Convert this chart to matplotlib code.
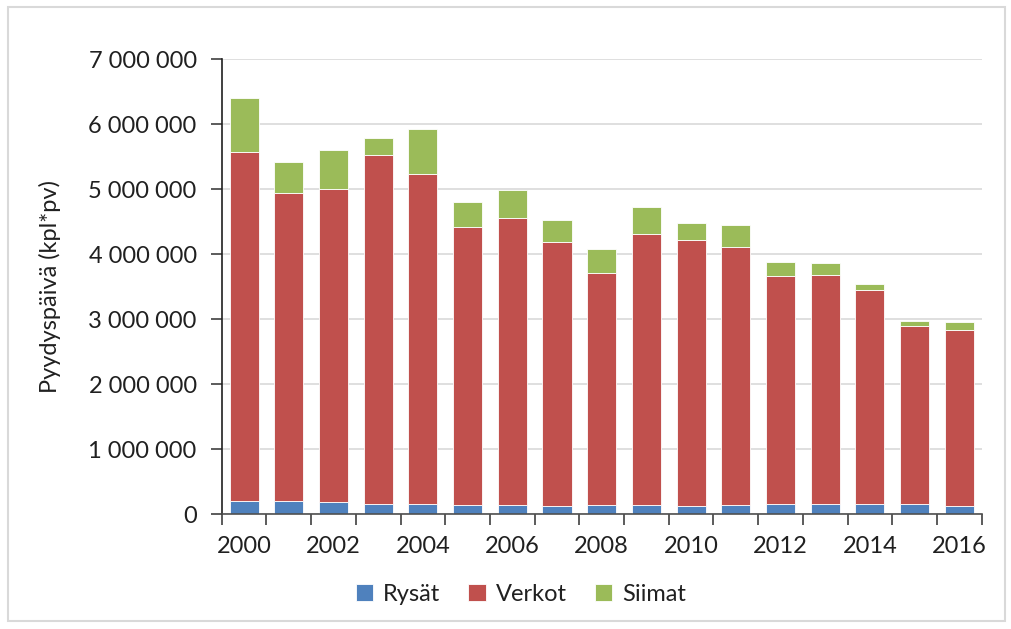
import numpy as np
import matplotlib
matplotlib.use("Agg")
import matplotlib.pyplot as plt
from matplotlib.patches import Rectangle
from matplotlib.ticker import FuncFormatter

plt.rcParams['font.family'] = ['Lato', 'DejaVu Sans']

years = list(range(2000, 2017))
rysat = [200000, 200000, 180000, 160000, 160000, 145000, 145000, 125000, 145000,
         145000, 125000, 145000, 160000, 160000, 160000, 160000, 125000]
verkot = [5374000, 4740000, 4820000, 5358000, 5075000, 4265000, 4405000, 4065000, 3558000,
          4165000, 4090000, 3965000, 3500000, 3517000, 3286000, 2732000, 2705000]
siimat = [826000, 475000, 595000, 272000, 695000, 390000, 435000, 338000, 369000,
          410000, 255000, 340000, 217000, 180000, 97000, 77000, 119000]
labels = ["Rysät", "Verkot", "Siimat"]
colors = ["#4F81BD", "#C0504D", "#9BBB59"]

fig = plt.figure(figsize=(10.11, 6.29), dpi=100)
# outer chart frame
fig.patches.append(Rectangle((0.008, 0.013), 0.986, 0.976, transform=fig.transFigure,
                             fill=False, edgecolor="#d9d9d9", linewidth=1.5))

ax = fig.add_axes([0.2193, 0.1828, 0.7517, 0.7234])
x = np.arange(len(years))
r = np.array(rysat)
v = np.array(verkot)
s = np.array(siimat)
w = 0.65
ax.bar(x, r, w, color=colors[0], edgecolor="white", linewidth=0.6, label=labels[0], zorder=2)
ax.bar(x, v, w, bottom=r, color=colors[1], edgecolor="white", linewidth=0.6, label=labels[1], zorder=2)
ax.bar(x, s, w, bottom=r + v, color=colors[2], edgecolor="white", linewidth=0.6, label=labels[2], zorder=2)

ax.set_xlim(-0.5, len(years) - 0.5)
ax.set_ylim(0, 7000000)
ax.set_yticks(np.arange(0, 7000001, 1000000))
ax.yaxis.set_major_formatter(FuncFormatter(lambda val, p: "{:,}".format(int(val)).replace(",", " ")))
ax.grid(axis="y", color="#d9d9d9", linewidth=1.2, zorder=0)
ax.set_axisbelow(True)

ax.set_xticks(x[::2])
ax.set_xticklabels([str(y) for y in years[::2]])
ax.set_xticks(np.arange(-0.5, len(years), 1), minor=True)
ax.tick_params(axis="x", which="major", length=0, pad=16, labelsize=17, labelcolor="#202020")
ax.tick_params(axis="x", which="minor", length=8, width=1.2, color="#404040", direction="out")
ax.tick_params(axis="y", length=8, width=1.2, color="#404040", labelsize=17, pad=10,
               labelcolor="#202020")

for side in ["top", "right"]:
    ax.spines[side].set_visible(False)
ax.spines["left"].set_color("#202020")
ax.spines["left"].set_linewidth(1.2)
ax.spines["bottom"].set_color("#505050")
ax.spines["bottom"].set_linewidth(1.2)

ax.set_ylabel("Pyydyspäivä (kpl*pv)", fontsize=17, labelpad=20, color="#202020")

fig.legend(loc="center", bbox_to_anchor=(0.515, 0.055), ncol=3, frameon=False,
           fontsize=17, handlelength=0.75, handleheight=0.75, handletextpad=0.4,
           columnspacing=1.2, labelcolor="#202020")

fig.savefig("out.png", dpi=100)
